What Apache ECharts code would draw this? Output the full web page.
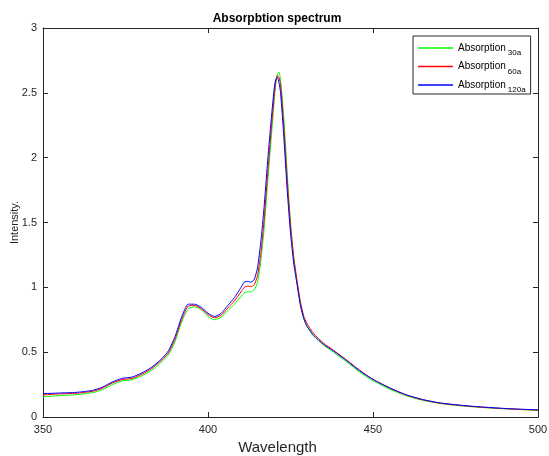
<!DOCTYPE html>
<html>
<head>
<meta charset="utf-8">
<script src="https://cdn.jsdelivr.net/npm/echarts@6/dist/echarts.min.js"></script>
<style>
html,body{margin:0;padding:0;background:#fff;}
#c{width:549px;height:456px;}
</style>
</head>
<body>
<div id="c"></div>
<script>
var wavelength = [350,355,360,365,368,371,374,377,380,383,386,388,390,392,394,396,398,400,402,404,406,408,410,411,412,413,414,415,416,417,418,419,420,420.5,421,421.5,422,423,424,425,426,427,428,429,430,432,435,438,442,446,450,455,460,465,470,475,480,485,490,495,500];

var abs30 = [0.155,0.165,0.172,0.188,0.21,0.25,0.278,0.288,0.318,0.362,0.425,0.478,0.58,0.73,0.835,0.85,0.825,0.775,0.75,0.77,0.82,0.87,0.93,0.955,0.965,0.965,0.98,1.04,1.2,1.45,1.78,2.1,2.42,2.56,2.64,2.66,2.6,2.3,1.88,1.5,1.22,1.03,0.87,0.76,0.70,0.625,0.555,0.5,0.425,0.345,0.28,0.215,0.164,0.129,0.105,0.09,0.079,0.07,0.063,0.057,0.052];

var abs60 = [0.17,0.178,0.183,0.198,0.222,0.262,0.288,0.298,0.33,0.375,0.44,0.495,0.60,0.75,0.855,0.86,0.835,0.79,0.765,0.785,0.84,0.895,0.965,1.0,1.01,1.005,1.02,1.09,1.26,1.52,1.85,2.17,2.46,2.58,2.635,2.62,2.56,2.23,1.83,1.48,1.23,1.05,0.89,0.78,0.72,0.645,0.57,0.515,0.44,0.36,0.29,0.224,0.17,0.133,0.108,0.093,0.081,0.072,0.064,0.058,0.053];

var abs120 = [0.18,0.185,0.19,0.205,0.23,0.27,0.298,0.308,0.34,0.385,0.45,0.51,0.62,0.77,0.87,0.87,0.845,0.80,0.775,0.80,0.86,0.92,1.0,1.04,1.045,1.04,1.06,1.15,1.35,1.62,1.95,2.25,2.52,2.6,2.62,2.58,2.5,2.15,1.75,1.42,1.18,1.02,0.86,0.76,0.70,0.63,0.56,0.51,0.435,0.355,0.29,0.225,0.172,0.135,0.11,0.095,0.083,0.074,0.066,0.06,0.055];

var seriesNames = ['30a','60a','120a'];
var seriesColors = ['#00ff00','#ff0000','#0000ff'];
var xTicks = {min:350,max:500,interval:50};
var yTicks = {min:0,max:3,interval:0.5};

function pairs(ys){ return wavelength.map(function(x,i){return [x, ys[i]];}); }
var allData = [abs30, abs60, abs120];

var FONT = "'Liberation Sans', Arial, sans-serif";
var AX = '#262626';

function axisCommon(showLabel){
  return {
    axisLine:{show:true,onZero:false,lineStyle:{color:AX,width:1}},
    axisTick:{show:true,inside:true,length:5,lineStyle:{color:AX,width:1}},
    splitLine:{show:false},
    axisLabel:{show:showLabel,color:AX,fontSize:11,fontFamily:FONT}
  };
}

var chart = echarts.init(document.getElementById('c'), null, {renderer:'canvas'});
var xb = axisCommon(true);
var xt = axisCommon(false);
var yl = axisCommon(true);
var yr = axisCommon(false);

var option = {
  animation:false,
  backgroundColor:'#fff',
  title:{
    text:'Absorpbtion spectrum',
    left:277, top:13, textAlign:'center', padding:0,
    textStyle:{fontSize:12,fontWeight:'bold',color:'#000',fontFamily:FONT}
  },
  grid:{left:43,right:11,top:28,bottom:39,containLabel:false,outerBoundsMode:'none'},
  legend:{
    orient:'vertical',
    left:413, top:36,
    padding:[7,5,0,5],
    icon:'rect',
    itemWidth:35, itemHeight:1.5, itemGap:4.5,
    backgroundColor:'#fff',
    borderColor:AX, borderWidth:1, borderRadius:0,
    data:seriesNames.map(function(n,i){
      return {name:n, itemStyle:{color:seriesColors[i],borderWidth:0,opacity:1}};
    }),
    formatter:function(n){ return '{a|Absorption}{s|' + n + '}'; },
    textStyle:{
      fontFamily:FONT,color:'#000',
      rich:{
        a:{fontSize:10,lineHeight:18,verticalAlign:'middle',fontFamily:FONT,color:'#000'},
        s:{fontSize:8,lineHeight:18,verticalAlign:'bottom',padding:[0,0,0,2],fontFamily:FONT,color:'#000'}
      }
    }
  },
  xAxis:[
    Object.assign({type:'value',position:'bottom',min:xTicks.min,max:xTicks.max,interval:xTicks.interval,
      name:'Wavelength',nameLocation:'middle',nameGap:21,
      nameTextStyle:{fontSize:15,color:AX,fontFamily:FONT,padding:[0,26,0,0]}}, xb,
      {axisLabel:{show:true,color:AX,fontSize:11,fontFamily:FONT,margin:7}}),
    Object.assign({type:'value',position:'top',min:xTicks.min,max:xTicks.max,interval:xTicks.interval}, xt)
  ],
  yAxis:[
    Object.assign({type:'value',position:'left',min:yTicks.min,max:yTicks.max,interval:yTicks.interval,
      name:'Intensity.',nameLocation:'middle',nameGap:23,nameMoveOverlap:false,
      nameTextStyle:{fontSize:11,color:AX,fontFamily:FONT}}, yl,
      {axisLabel:{show:true,color:AX,fontSize:11,fontFamily:FONT,margin:6}}),
    Object.assign({type:'value',position:'right',min:yTicks.min,max:yTicks.max,interval:yTicks.interval}, yr)
  ],
  series: seriesNames.map(function(n,i){
    return {
      name:n, type:'line', xAxisIndex:0, yAxisIndex:0,
      data:pairs(allData[i]),
      symbol:'none', showSymbol:false,
      smooth:0.2,
      lineStyle:{color:seriesColors[i],width:1},
      itemStyle:{color:seriesColors[i]},
      z:2+i
    };
  })
};
chart.setOption(option);
</script>
</body>
</html>
